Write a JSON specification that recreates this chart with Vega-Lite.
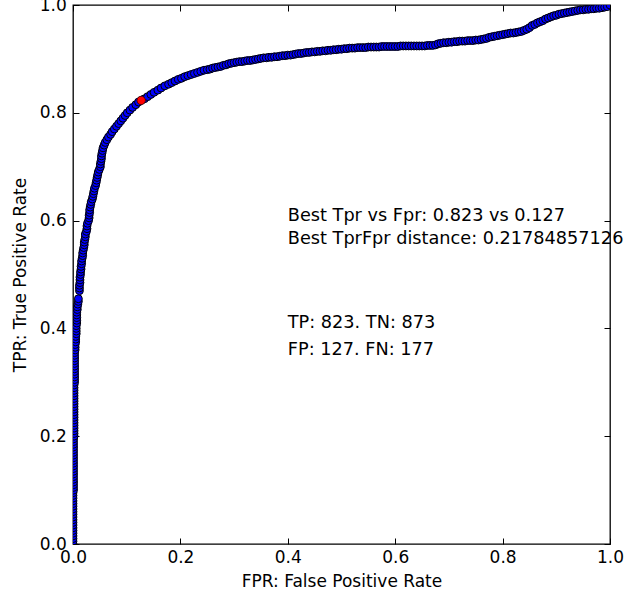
{
  "$schema": "https://vega.github.io/schema/vega-lite/v6.json",
  "autosize": {"type": "none"},
  "padding": {"left": 73, "top": 5, "right": 24, "bottom": 51},
  "width": 537,
  "height": 539,
  "background": "white",
  "config": {
    "view": {"stroke": "black", "strokeWidth": 1.3},
    "font": "DejaVu Sans",
    "axis": {
      "domain": false, "grid": false,
      "tickColor": "black", "tickSize": -6, "tickWidth": 1,
      "labelColor": "black", "labelFont": "DejaVu Sans", "labelFontSize": 17,
      "titleColor": "black", "titleFont": "DejaVu Sans", "titleFontSize": 17, "titleFontWeight": "normal"
    }
  },
  "datasets": {
    "roc": [
      {"x":0.000,"y":0.000},{"x":0.000,"y":0.005},{"x":0.000,"y":0.010},{"x":0.000,"y":0.015},{"x":0.000,"y":0.020},{"x":0.000,"y":0.025},{"x":0.000,"y":0.030},{"x":0.000,"y":0.035},{"x":0.000,"y":0.040},{"x":0.000,"y":0.045},
      {"x":0.000,"y":0.050},{"x":0.000,"y":0.055},{"x":0.000,"y":0.060},{"x":0.000,"y":0.065},{"x":0.000,"y":0.070},{"x":0.000,"y":0.075},{"x":0.000,"y":0.080},{"x":0.000,"y":0.085},{"x":0.000,"y":0.090},{"x":0.000,"y":0.095},
      {"x":0.001,"y":0.100},{"x":0.001,"y":0.105},{"x":0.001,"y":0.110},{"x":0.001,"y":0.115},{"x":0.001,"y":0.120},{"x":0.001,"y":0.125},{"x":0.001,"y":0.130},{"x":0.001,"y":0.135},{"x":0.001,"y":0.140},{"x":0.001,"y":0.145},
      {"x":0.001,"y":0.150},{"x":0.001,"y":0.155},{"x":0.001,"y":0.160},{"x":0.001,"y":0.165},{"x":0.001,"y":0.170},{"x":0.001,"y":0.175},{"x":0.001,"y":0.180},{"x":0.001,"y":0.185},{"x":0.001,"y":0.190},{"x":0.001,"y":0.195},
      {"x":0.002,"y":0.200},{"x":0.002,"y":0.205},{"x":0.002,"y":0.210},{"x":0.002,"y":0.215},{"x":0.002,"y":0.220},{"x":0.002,"y":0.225},{"x":0.002,"y":0.230},{"x":0.002,"y":0.235},{"x":0.002,"y":0.240},{"x":0.002,"y":0.245},
      {"x":0.002,"y":0.250},{"x":0.002,"y":0.255},{"x":0.002,"y":0.260},{"x":0.002,"y":0.265},{"x":0.002,"y":0.270},{"x":0.002,"y":0.275},{"x":0.002,"y":0.280},{"x":0.002,"y":0.285},{"x":0.002,"y":0.290},{"x":0.002,"y":0.295},
      {"x":0.003,"y":0.300},{"x":0.003,"y":0.305},{"x":0.003,"y":0.310},{"x":0.003,"y":0.315},{"x":0.003,"y":0.320},{"x":0.003,"y":0.325},{"x":0.003,"y":0.330},{"x":0.003,"y":0.335},{"x":0.003,"y":0.340},{"x":0.003,"y":0.345},
      {"x":0.003,"y":0.350},{"x":0.003,"y":0.355},{"x":0.004,"y":0.360},{"x":0.004,"y":0.365},{"x":0.004,"y":0.370},{"x":0.005,"y":0.375},{"x":0.005,"y":0.380},{"x":0.005,"y":0.385},{"x":0.006,"y":0.390},{"x":0.006,"y":0.395},
      {"x":0.006,"y":0.400},{"x":0.006,"y":0.405},{"x":0.007,"y":0.410},{"x":0.007,"y":0.415},{"x":0.007,"y":0.420},{"x":0.007,"y":0.425},{"x":0.007,"y":0.430},{"x":0.008,"y":0.435},{"x":0.008,"y":0.440},{"x":0.009,"y":0.445},
      {"x":0.010,"y":0.450},{"x":0.010,"y":0.455},{"x":0.012,"y":0.470},{"x":0.012,"y":0.475},{"x":0.012,"y":0.480},{"x":0.013,"y":0.485},{"x":0.013,"y":0.490},{"x":0.013,"y":0.495},
      {"x":0.014,"y":0.500},{"x":0.014,"y":0.505},{"x":0.015,"y":0.510},{"x":0.015,"y":0.515},{"x":0.016,"y":0.520},{"x":0.016,"y":0.525},{"x":0.017,"y":0.530},{"x":0.018,"y":0.535},{"x":0.018,"y":0.540},{"x":0.019,"y":0.545},
      {"x":0.020,"y":0.550},{"x":0.021,"y":0.555},{"x":0.021,"y":0.560},{"x":0.022,"y":0.565},{"x":0.023,"y":0.570},{"x":0.023,"y":0.575},{"x":0.025,"y":0.580},{"x":0.026,"y":0.585},{"x":0.026,"y":0.590},{"x":0.027,"y":0.595},
      {"x":0.029,"y":0.600},{"x":0.030,"y":0.605},{"x":0.030,"y":0.610},{"x":0.031,"y":0.615},{"x":0.031,"y":0.620},{"x":0.032,"y":0.625},{"x":0.033,"y":0.630},{"x":0.034,"y":0.635},{"x":0.036,"y":0.640},{"x":0.037,"y":0.645},
      {"x":0.038,"y":0.650},{"x":0.039,"y":0.655},{"x":0.040,"y":0.660},{"x":0.042,"y":0.665},{"x":0.043,"y":0.670},{"x":0.044,"y":0.675},{"x":0.045,"y":0.680},{"x":0.046,"y":0.685},{"x":0.047,"y":0.690},{"x":0.049,"y":0.695},
      {"x":0.051,"y":0.700},{"x":0.051,"y":0.705},{"x":0.052,"y":0.710},{"x":0.053,"y":0.715},{"x":0.053,"y":0.720},{"x":0.054,"y":0.725},{"x":0.055,"y":0.730},{"x":0.056,"y":0.735},{"x":0.058,"y":0.740},{"x":0.060,"y":0.745},
      {"x":0.063,"y":0.750},{"x":0.066,"y":0.755},{"x":0.070,"y":0.760},{"x":0.073,"y":0.765},{"x":0.077,"y":0.770},{"x":0.081,"y":0.775},{"x":0.085,"y":0.780},{"x":0.089,"y":0.785},{"x":0.093,"y":0.790},{"x":0.097,"y":0.795},
      {"x":0.101,"y":0.800},{"x":0.106,"y":0.805},{"x":0.111,"y":0.810},{"x":0.117,"y":0.815},{"x":0.122,"y":0.820},{"x":0.127,"y":0.823},{"x":0.133,"y":0.826},{"x":0.139,"y":0.830},{"x":0.145,"y":0.834},{"x":0.151,"y":0.838},
      {"x":0.158,"y":0.842},{"x":0.164,"y":0.846},{"x":0.171,"y":0.850},{"x":0.178,"y":0.853},{"x":0.184,"y":0.856},{"x":0.190,"y":0.859},{"x":0.196,"y":0.862},{"x":0.202,"y":0.864},{"x":0.208,"y":0.867},{"x":0.214,"y":0.869},
      {"x":0.220,"y":0.871},{"x":0.226,"y":0.873},{"x":0.232,"y":0.875},{"x":0.238,"y":0.877},{"x":0.244,"y":0.879},
      {"x":0.250,"y":0.880},{"x":0.255,"y":0.881},{"x":0.260,"y":0.883},{"x":0.265,"y":0.884},{"x":0.270,"y":0.885},{"x":0.275,"y":0.886},{"x":0.280,"y":0.888},{"x":0.285,"y":0.889},{"x":0.290,"y":0.891},{"x":0.295,"y":0.892},
      {"x":0.300,"y":0.893},{"x":0.305,"y":0.894},{"x":0.310,"y":0.895},{"x":0.315,"y":0.895},{"x":0.320,"y":0.896},{"x":0.325,"y":0.897},{"x":0.330,"y":0.897},{"x":0.335,"y":0.898},{"x":0.340,"y":0.899},{"x":0.345,"y":0.900},
      {"x":0.350,"y":0.901},{"x":0.355,"y":0.902},{"x":0.360,"y":0.902},{"x":0.365,"y":0.903},{"x":0.370,"y":0.903},{"x":0.375,"y":0.904},{"x":0.380,"y":0.904},{"x":0.385,"y":0.905},{"x":0.390,"y":0.906},{"x":0.395,"y":0.906},
      {"x":0.400,"y":0.907},{"x":0.405,"y":0.907},{"x":0.410,"y":0.908},{"x":0.415,"y":0.909},{"x":0.420,"y":0.910},{"x":0.425,"y":0.910},{"x":0.430,"y":0.911},{"x":0.435,"y":0.912},{"x":0.440,"y":0.912},{"x":0.445,"y":0.913},
      {"x":0.450,"y":0.913},{"x":0.455,"y":0.914},{"x":0.460,"y":0.914},{"x":0.465,"y":0.915},{"x":0.470,"y":0.915},{"x":0.475,"y":0.916},{"x":0.480,"y":0.916},{"x":0.485,"y":0.917},{"x":0.490,"y":0.917},{"x":0.495,"y":0.918},
      {"x":0.500,"y":0.918},{"x":0.505,"y":0.919},{"x":0.510,"y":0.919},{"x":0.515,"y":0.920},{"x":0.520,"y":0.920},{"x":0.525,"y":0.920},{"x":0.530,"y":0.921},{"x":0.535,"y":0.921},{"x":0.540,"y":0.921},{"x":0.545,"y":0.921},
      {"x":0.550,"y":0.922},{"x":0.555,"y":0.922},{"x":0.560,"y":0.922},{"x":0.565,"y":0.922},{"x":0.570,"y":0.922},{"x":0.575,"y":0.923},{"x":0.580,"y":0.923},{"x":0.585,"y":0.923},{"x":0.590,"y":0.923},{"x":0.595,"y":0.923},
      {"x":0.600,"y":0.923},{"x":0.605,"y":0.923},{"x":0.610,"y":0.924},{"x":0.615,"y":0.924},{"x":0.620,"y":0.924},{"x":0.625,"y":0.924},{"x":0.630,"y":0.924},{"x":0.635,"y":0.924},{"x":0.640,"y":0.924},{"x":0.645,"y":0.924},
      {"x":0.650,"y":0.924},{"x":0.655,"y":0.924},{"x":0.660,"y":0.925},{"x":0.665,"y":0.925},{"x":0.670,"y":0.925},{"x":0.675,"y":0.926},{"x":0.680,"y":0.928},{"x":0.685,"y":0.929},{"x":0.690,"y":0.930},{"x":0.695,"y":0.930},
      {"x":0.700,"y":0.931},{"x":0.705,"y":0.931},{"x":0.710,"y":0.932},{"x":0.715,"y":0.932},{"x":0.720,"y":0.933},{"x":0.725,"y":0.933},{"x":0.730,"y":0.933},{"x":0.735,"y":0.934},{"x":0.740,"y":0.934},{"x":0.745,"y":0.934},
      {"x":0.750,"y":0.935},{"x":0.755,"y":0.935},{"x":0.760,"y":0.936},{"x":0.765,"y":0.937},{"x":0.770,"y":0.938},{"x":0.775,"y":0.940},{"x":0.780,"y":0.941},{"x":0.785,"y":0.942},{"x":0.790,"y":0.943},{"x":0.795,"y":0.944},
      {"x":0.800,"y":0.945},{"x":0.805,"y":0.946},{"x":0.810,"y":0.947},{"x":0.815,"y":0.948},{"x":0.820,"y":0.948},{"x":0.825,"y":0.949},{"x":0.830,"y":0.950},{"x":0.835,"y":0.951},{"x":0.840,"y":0.953},{"x":0.845,"y":0.955},
      {"x":0.850,"y":0.958},{"x":0.855,"y":0.962},{"x":0.860,"y":0.964},{"x":0.865,"y":0.967},{"x":0.870,"y":0.969},{"x":0.875,"y":0.971},{"x":0.880,"y":0.974},{"x":0.885,"y":0.976},{"x":0.890,"y":0.978},{"x":0.895,"y":0.980},
      {"x":0.900,"y":0.981},{"x":0.905,"y":0.983},{"x":0.910,"y":0.984},{"x":0.915,"y":0.985},{"x":0.920,"y":0.986},{"x":0.925,"y":0.987},{"x":0.930,"y":0.988},{"x":0.935,"y":0.989},{"x":0.940,"y":0.990},{"x":0.945,"y":0.991},
      {"x":0.950,"y":0.991},{"x":0.955,"y":0.992},{"x":0.960,"y":0.992},{"x":0.965,"y":0.993},{"x":0.970,"y":0.993},{"x":0.975,"y":0.994},{"x":0.980,"y":0.994},{"x":0.985,"y":0.995},{"x":0.990,"y":0.996},{"x":0.995,"y":0.997},
      {"x":1.000,"y":1.000}
    ],
    "best": [{"x": 0.127, "y": 0.823}],
    "notes": [
      {"x": 0.4, "y": 0.600, "label": "Best Tpr vs Fpr: 0.823 vs 0.127"},
      {"x": 0.4, "y": 0.557, "label": "Best TprFpr distance: 0.21784857126"},
      {"x": 0.4, "y": 0.400, "label": "TP: 823. TN: 873"},
      {"x": 0.4, "y": 0.350, "label": "FP: 127. FN: 177"}
    ]
  },
  "resolve": {"axis": {"x": "independent", "y": "independent"}},
  "layer": [
    {
      "data": {"name": "roc"},
      "mark": {"type": "circle", "clip": true, "size": 62, "fill": "#0000ff", "stroke": "black", "strokeWidth": 1, "opacity": 1},
      "encoding": {
        "x": {"field": "x", "type": "quantitative", "scale": {"domain": [0, 1], "nice": false, "zero": false},
              "axis": {"orient": "bottom", "values": [0, 0.2, 0.4, 0.6, 0.8, 1.0], "format": ".1f", "labelPadding": 11, "labelFlush": false, "title": "FPR: False Positive Rate", "titlePadding": 8}},
        "y": {"field": "y", "type": "quantitative", "scale": {"domain": [0, 1], "nice": false, "zero": false},
              "axis": {"orient": "left", "values": [0, 0.2, 0.4, 0.6, 0.8, 1.0], "format": ".1f", "labelPadding": 12.7, "labelFlush": false, "title": "TPR: True Positive Rate", "titlePadding": 10}}
      }
    },
    {
      "data": {"name": "best"},
      "mark": {"type": "circle", "clip": true, "size": 70, "fill": "#ff0000", "stroke": "#400000", "strokeWidth": 0.7, "opacity": 1},
      "encoding": {
        "x": {"field": "x", "type": "quantitative", "axis": {"orient": "top", "values": [0, 0.2, 0.4, 0.6, 0.8, 1.0], "labels": false, "title": null}},
        "y": {"field": "y", "type": "quantitative", "axis": {"orient": "right", "values": [0, 0.2, 0.4, 0.6, 0.8, 1.0], "labels": false, "title": null}}
      }
    },
    {
      "data": {"name": "notes"},
      "mark": {"type": "text", "align": "left", "baseline": "alphabetic", "font": "DejaVu Sans", "fontSize": 17.7, "color": "black"},
      "encoding": {
        "x": {"field": "x", "type": "quantitative", "axis": null},
        "y": {"field": "y", "type": "quantitative", "axis": null},
        "text": {"field": "label"}
      }
    }
  ]
}
